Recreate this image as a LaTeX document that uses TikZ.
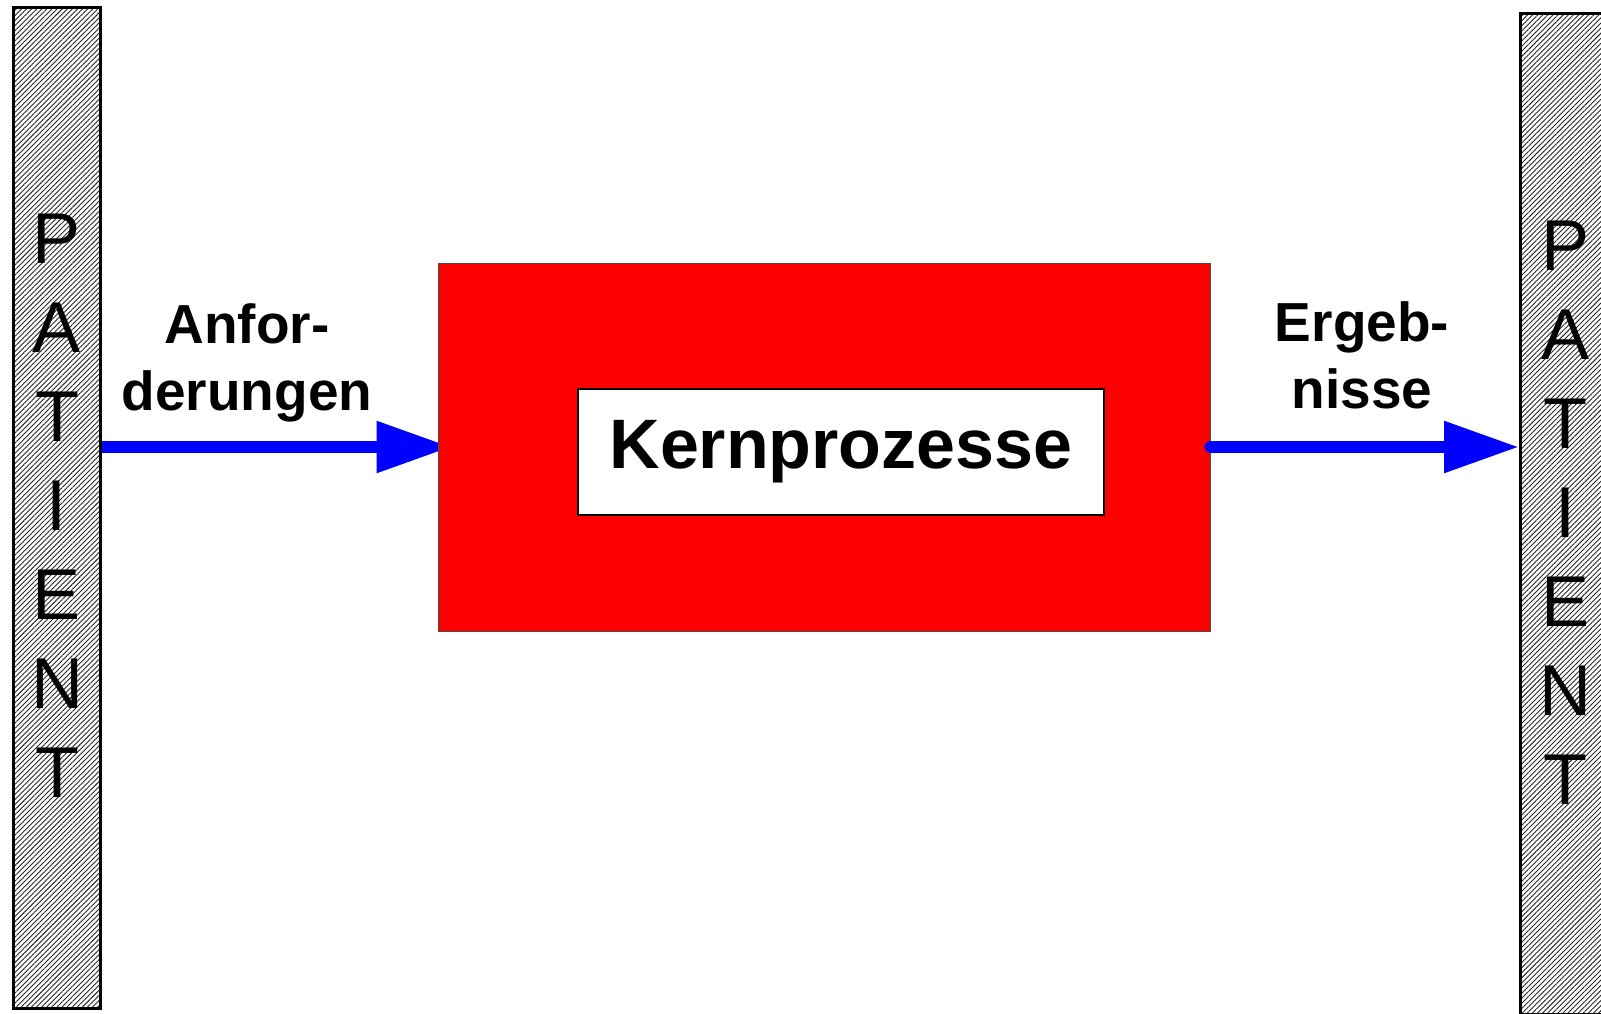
\documentclass[tikz,border=0pt]{standalone}
\usepackage{fontspec}
\setmainfont{Liberation Sans}
\usetikzlibrary{patterns.meta,arrows.meta,backgrounds}

\begin{document}
\begin{tikzpicture}[x=1pt,y=-1pt,
	bar/.style={draw=black, line width=3pt, preaction={fill=white},
		pattern={Lines[angle=45,distance=3.6pt,line width=0.9pt]}, pattern color=black!85,
		minimum width=87pt, minimum height=1001pt, inner sep=0pt},
	letter/.style={font=\fontsize{72}{72}\selectfont, inner sep=0pt},
	flow/.style={draw=blue, line width=12pt, line cap=round, -{Triangle[length=75pt,width=49pt]}},
	flowlabel/.style={font=\fontsize{55}{67}\selectfont\bfseries, align=center, inner sep=0pt}]

	\clip (0,0) rectangle (1601,1013);

	% core process
	\node[fill=red, draw=black!70, line width=1pt, minimum width=772pt, minimum height=368pt,
		inner sep=0pt] (kern) at (824,447) {};
	\node[fill=white, draw=black, line width=1.5pt, minimum width=526pt, minimum height=126pt,
		font=\fontsize{70}{70}\selectfont\bfseries] (kernlabel) at (841,452) {Kernprozesse};

	% patient bars
	\node[bar] (patL) at (56.5,507.5) {};
	\node[bar] (patR) at (1564,513.5) {};
	\foreach \l [count=\i] in {P,A,T,I,E,N,T}
	{
		\node[letter, anchor=base] (pl\i) at (57,174+89*\i) {\l};
		\node[letter, anchor=base] (pr\i) at (1565,181+89*\i) {\l};
	}

	% arrows
	\begin{scope}[on background layer]
		\draw[flow] (patL.center |- kern.west) -- ([xshift=14pt]kern.west);
	\end{scope}
	\draw[flow] (kern.east) -- (patR.west |- kern.east);

	\node[flowlabel, anchor=base] (anfor) at (247,410) {Anfor-\\derungen};
	\node[flowlabel, anchor=base] (ergeb) at (1362,408) {Ergeb-\\nisse};

\end{tikzpicture}
\end{document}
